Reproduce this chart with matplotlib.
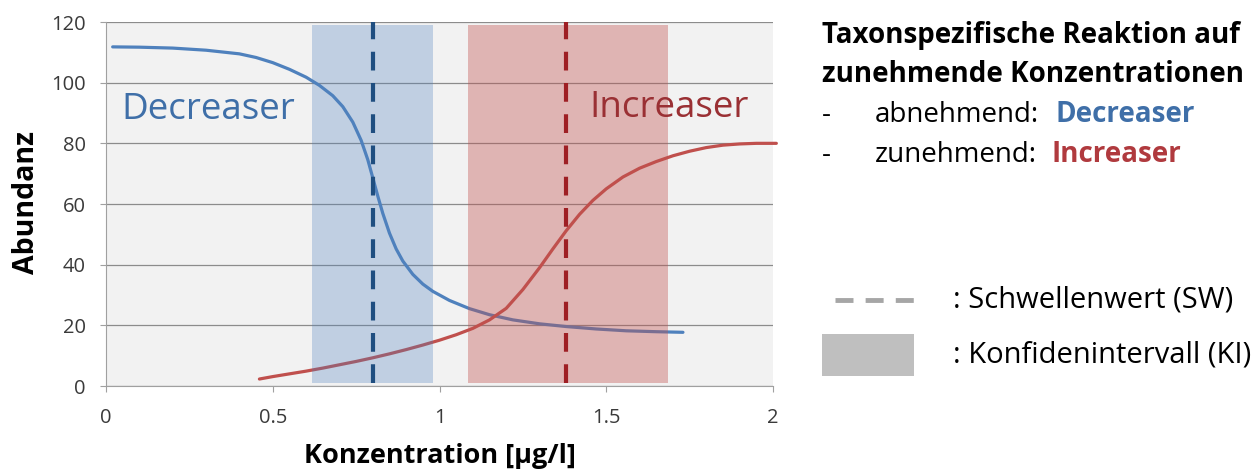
import matplotlib.pyplot as plt
from matplotlib.lines import Line2D
from matplotlib.patches import Rectangle

plt.rcParams['font.family'] = ['Open Sans', 'DejaVu Sans']

# Decreaser-Kurve (abnehmend)
dec_x = [0.02, 0.1, 0.2, 0.3, 0.4, 0.45, 0.5, 0.55, 0.6, 0.64, 0.68, 0.71, 0.74,
         0.765, 0.785, 0.8, 0.815, 0.83, 0.85, 0.87, 0.89, 0.92, 0.95, 0.98, 1.03,
         1.09, 1.15, 1.22, 1.3, 1.38, 1.47, 1.56, 1.65, 1.73]
dec_y = [111.8, 111.7, 111.4, 110.7, 109.5, 108.3, 106.6, 104.4, 101.8, 99.1,
         95.7, 92.1, 87.0, 81.0, 74.6, 68.6, 62.6, 56.9, 50.4, 45.2, 41.2, 36.8,
         33.6, 31.2, 28.2, 25.5, 23.5, 21.8, 20.5, 19.6, 18.8, 18.2, 17.9, 17.7]

# Increaser-Kurve (zunehmend)
inc_x = [0.46, 0.5, 0.55, 0.6, 0.65, 0.7, 0.75, 0.8, 0.85, 0.9, 0.95, 1.0, 1.05,
         1.1, 1.15, 1.2, 1.25, 1.3, 1.34, 1.38, 1.42, 1.46, 1.5, 1.55, 1.6, 1.65,
         1.7, 1.75, 1.8, 1.85, 1.9, 1.95, 2.01]
inc_y = [2.3, 3.1, 4.0, 4.9, 5.9, 7.0, 8.1, 9.3, 10.6, 12.0, 13.5, 15.1, 16.9,
         19.0, 21.8, 25.6, 31.8, 39.0, 45.2, 51.2, 56.6, 61.2, 65.0, 68.9, 71.8,
         74.0, 75.9, 77.4, 78.6, 79.4, 79.8, 80.0, 80.0]

# Schwellenwerte und Konfidenzintervalle
sw_dec = 0.8
sw_inc = 1.38
ki_dec = (0.617, 0.98)
ki_inc = (1.086, 1.686)

x_ticks = [0, 0.5, 1, 1.5, 2]
x_labels = ['0', '0.5', '1', '1.5', '2']
y_ticks = [0, 20, 40, 60, 80, 100, 120]

blue = '#4f81bd'
red = '#c0504d'
W, H = 1252, 474

fig = plt.figure(figsize=(W / 100, H / 100), dpi=100)
ax = fig.add_axes([106 / W, 1 - 386 / H, (773 - 106) / W, (386 - 22) / H])
ax.set_facecolor('#f2f2f2')

ax.plot(dec_x, dec_y, color=blue, lw=2.3, zorder=3, solid_capstyle='round', solid_joinstyle='round')
ax.plot(inc_x, inc_y, color=red, lw=2.3, zorder=3, clip_on=False,
        solid_capstyle='round', solid_joinstyle='round')

ax.axvspan(ki_dec[0], ki_dec[1], ymin=1 / 120, ymax=119 / 120, color=blue, alpha=0.3, lw=0, zorder=4)
ax.axvspan(ki_inc[0], ki_inc[1], ymin=1 / 120, ymax=119 / 120, color=red, alpha=0.38, lw=0, zorder=4)

ax.plot([sw_dec, sw_dec], [1, 120], color='#1f4e80', lw=3, dashes=(4.5, 3), zorder=5)
ax.plot([sw_inc, sw_inc], [1, 120], color='#9e1f24', lw=3, dashes=(4.5, 3), zorder=5)

ax.text(0.045, 91, 'Decreaser', color='#3f6fa8', fontsize=26.5, va='center', ha='left', zorder=6)
ax.text(1.45, 91.5, 'Increaser', color='#9a3034', fontsize=26.5, va='center', ha='left', zorder=6)

ax.set_xlim(0, 2)
ax.set_ylim(0, 120)
ax.set_xticks(x_ticks)
ax.set_xticklabels(x_labels)
ax.set_yticks(y_ticks)
ax.grid(axis='y', color='#8c8c8c', lw=0.9, zorder=1)
ax.set_axisbelow(True)
for s in ['top', 'right']:
    ax.spines[s].set_visible(False)
for s in ['left', 'bottom']:
    ax.spines[s].set_color('#a0a0a0')
ax.tick_params(axis='both', colors='#a0a0a0', labelcolor='#3a3a3a', labelsize=14.5, length=4.5)
ax.tick_params(axis='y', pad=10)
ax.tick_params(axis='x', pad=11)

fig.text(26 / W, 1 - 202 / H, 'Abundanz', rotation=90, fontsize=20.5, fontweight='bold',
         ha='center', va='center')
fig.text(440 / W, 1 - 456 / H, 'Konzentration [µg/l]', fontsize=19.5, fontweight='bold',
         ha='center', va='center')

# Textblock rechts
fs = 20
fig.text(822 / W, 1 - 35 / H, 'Taxonspezifische Reaktion auf', fontsize=fs, fontweight='bold', va='center')
fig.text(822 / W, 1 - 75 / H, 'zunehmende Konzentrationen', fontsize=fs, fontweight='bold', va='center')
fig.text(822 / W, 1 - 115 / H, '-', fontsize=fs, va='center')
fig.text(875 / W, 1 - 115 / H, 'abnehmend:', fontsize=fs, va='center')
fig.text(1055 / W, 1 - 115 / H, 'Decreaser', fontsize=fs, fontweight='bold', color='#3f6fa8', va='center')
fig.text(822 / W, 1 - 155 / H, '-', fontsize=fs, va='center')
fig.text(875 / W, 1 - 155 / H, 'zunehmend:', fontsize=fs, va='center')
fig.text(1052 / W, 1 - 155 / H, 'Increaser', fontsize=fs, fontweight='bold', color='#b03a3e', va='center')

fig.add_artist(Line2D([835 / W, 917 / W], [1 - 300 / H, 1 - 300 / H], color='#a6a6a6', lw=3.5,
                      dashes=(3.7, 2.5)))
fig.add_artist(Rectangle((822 / W, 1 - 376 / H), 92 / W, 42 / H, color='#bfbfbf', lw=0))
fig.text(953 / W, 1 - 300 / H, ': Schwellenwert (SW)', fontsize=21, va='center')
fig.text(953 / W, 1 - 355 / H, ': Konfidenintervall (KI)', fontsize=21, va='center')

fig.savefig('out.png', dpi=100)
